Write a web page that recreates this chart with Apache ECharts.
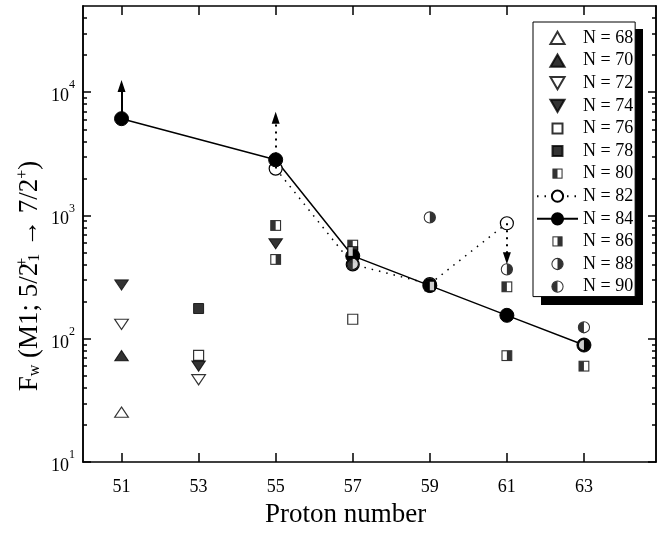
<!DOCTYPE html>
<html>
<head>
<meta charset="utf-8">
<script src="https://cdn.jsdelivr.net/npm/echarts@6/dist/echarts.min.js"></script>
<style>html,body{margin:0;padding:0;background:#fff;}#c{width:659px;height:533px;}</style>
</head>
<body>
<div id="c"></div>
<script>
// ---- data ----
const xTicks = [51, 53, 55, 57, 59, 61, 63];
const yMajor = [10, 100, 1000, 10000];
const yMinor = [20,30,40,50,60,70,80,90,200,300,400,500,600,700,800,900,2000,3000,4000,5000,6000,7000,8000,9000,20000,30000,40000];
const n68 = [[51, 25.4]];
const n70 = [[51, 73]];
const n72 = [[51, 131], [53, 46.5]];
const n74 = [[51, 273], [53, 60], [55, 589]];
const n76 = [[53, 73.5], [57, 144]];
const n78 = [[53, 176]];
const n80 = [[55, 830], [57, 575], [59, 268], [61, 264], [63, 60]];
const n82 = [[55, 2400], [57, 401], [59, 278], [61, 865]];
const n84 = [[51, 6100], [55, 2830], [57, 470], [59, 270], [61, 155], [63, 89]];
const n86 = [[55, 440], [57, 510], [61, 73]];
const n88 = [[57, 400], [59, 964], [61, 366], [63, 89]];
const n90 = [[57, 405], [63, 124]];
// limit arrows: [x, from, to]
const arrowSolid = [[51, 6100, 11200]];
const arrowDotted = [[55, 2400, 6200], [61, 865, 450]];

function svgSym(inner) {
  return 'image://data:image/svg+xml;charset=utf-8,' + encodeURIComponent(
    "<svg xmlns='http://www.w3.org/2000/svg' width='40' height='40' viewBox='0 0 40 40'>" + inner + "</svg>");
}
const sqLeft = svgSym("<rect x='7' y='7' width='26' height='26' fill='white' stroke='black' stroke-width='3'/><rect x='7' y='7' width='13' height='26' fill='black'/>");
const sqRight = svgSym("<rect x='7' y='7' width='26' height='26' fill='white' stroke='black' stroke-width='3'/><rect x='20' y='7' width='13' height='26' fill='black'/>");
const ciRight = svgSym("<circle cx='20' cy='20' r='16' fill='white' stroke='black' stroke-width='3'/><path d='M20,4 A16,16 0 0,1 20,36 Z' fill='black'/>");
const ciLeft = svgSym("<circle cx='20' cy='20' r='16' fill='white' stroke='black' stroke-width='3'/><path d='M20,4 A16,16 0 0,0 20,36 Z' fill='black'/>");
const triUp = 'path://M-0.5,-0.6M10.5,9.3M5,0L10,8.66L0,8.66Z';
const triDown = 'path://M-0.5,-0.6M10.5,9.3M0,0L10,0L5,8.66Z';
const sq = 'path://M-2,-2M12,12M0,0L10,0L10,10L0,10Z';

const FONT = 'Liberation Serif';
const open = {color: '#fff', borderColor: '#000', borderWidth: 1.2};
const full = {color: '#000', borderColor: '#000', borderWidth: 1};

function sc(name, data, symbol, size, style) {
  return {name, type: 'scatter', data, symbol, symbolSize: size, symbolKeepAspect: true, itemStyle: style, z: 3};
}
function arrowLines(list) {
  return list.map(a => [{coord: [a[0], a[1]]}, {coord: [a[0], a[2]]}]);
}

const series = [
  sc('N = 68', n68, triUp, [15, 13], open),
  sc('N = 70', n70, triUp, [15, 13], full),
  sc('N = 72', n72, triDown, [15, 13], open),
  sc('N = 74', n74, triDown, [15, 13], full),
  sc('N = 76', n76, sq, 14, open),
  sc('N = 78', n78, sq, 14, full),
  sc('N = 80', n80, sqLeft, 15, full),
  {name: 'N = 82', type: 'line', data: n82, symbol: 'circle', symbolSize: 13,
   itemStyle: open, lineStyle: {color: '#000', width: 1.5, type: [1.5, 6]}, z: 2,
   markLine: {silent: true, symbol: ['none', 'triangle'], symbolSize: [8, 12],
     label: {show: false}, lineStyle: {color: '#000', width: 2, type: [2, 5]},
     data: arrowLines(arrowDotted)}},
  {name: 'N = 84', type: 'line', data: n84, symbol: 'circle', symbolSize: 14,
   itemStyle: full, lineStyle: {color: '#000', width: 1.5}, z: 2,
   markLine: {silent: true, symbol: ['none', 'triangle'], symbolSize: [8, 12],
     label: {show: false}, lineStyle: {color: '#000', width: 2, type: 'solid'},
     data: arrowLines(arrowSolid)}},
  sc('N = 86', n86, sqRight, 15, full),
  sc('N = 88', n88, ciRight, 14, full),
  sc('N = 90', n90, ciLeft, 14, full)
];

const supRich = {
  b: {fontFamily: FONT, fontSize: 18, color: '#000', lineHeight: 26, verticalAlign: 'bottom'},
  s: {fontFamily: FONT, fontSize: 12, color: '#000', lineHeight: 12, verticalAlign: 'top'}
};

function yAx(pos, showLabel, ticks, len) {
  return {
    type: 'log', logBase: 10, min: 10, max: 50000, position: pos,
    axisLine: {show: true, lineStyle: {color: '#000', width: 1.5}},
    axisTick: {show: true, inside: true, length: len, customValues: ticks, lineStyle: {color: '#000', width: 1.5}},
    axisLabel: showLabel ? {show: true, customValues: yMajor, margin: 8,
      formatter: v => '{b|10}{s|' + Math.round(Math.log10(v)) + '}', rich: supRich} : {show: false},
    splitLine: {show: false}, minorTick: {show: false}
  };
}

const titleRich = {
  a: {fontFamily: FONT, fontSize: 27, fill: '#000', lineHeight: 28, verticalAlign: 'bottom'},
  s: {fontFamily: FONT, fontSize: 16, fill: '#000', lineHeight: 15, verticalAlign: 'top'},
  p: {fontFamily: FONT, fontSize: 16, fill: '#000', lineHeight: 15, verticalAlign: 'top', width: 1},
  u: {fontFamily: FONT, fontSize: 16, fill: '#000', lineHeight: 15, verticalAlign: 'bottom'}
};

const chart = echarts.init(document.getElementById('c'), null, {renderer: 'canvas'});
chart.setOption({
  animation: false,
  backgroundColor: '#fff',
  grid: {left: 83, top: 6, width: 573, height: 466, containLabel: false},
  graphic: [{
    type: 'text', x: 29, y: 276, rotation: Math.PI / 2, z: 10,
    style: {
      text: '{a|F}{u|w}{a| (M1; 5/2}{p|+}{u|1}{a| → 7/2}{s|+}{a|)}',
      rich: titleRich, align: 'center', verticalAlign: 'middle'
    }
  }, {
    type: 'rect', z: 5, shape: {x: 541, y: 29, width: 102, height: 276},
    style: {fill: '#000'}
  }],
  xAxis: [
    {type: 'value', min: 50, max: 64.87, position: 'bottom',
     name: 'Proton number', nameLocation: 'middle', nameGap: 34,
     nameTextStyle: {fontFamily: FONT, fontSize: 27, color: '#000', padding: [0, 48, 0, 0]},
     axisLine: {lineStyle: {color: '#000', width: 1.5}},
     axisTick: {inside: true, length: 9, customValues: xTicks, lineStyle: {color: '#000', width: 1.5}},
     axisLabel: {customValues: xTicks, fontFamily: FONT, fontSize: 18, color: '#000', margin: 16},
     splitLine: {show: false}},
    {type: 'value', min: 50, max: 64.87, position: 'top',
     axisLine: {lineStyle: {color: '#000', width: 1.5}},
     axisTick: {inside: true, length: 9, customValues: xTicks, lineStyle: {color: '#000', width: 1.5}},
     axisLabel: {show: false}, splitLine: {show: false}}
  ],
  yAxis: [
    yAx('left', true, yMajor, 8),
    yAx('left', false, yMinor, 4),
    yAx('right', false, yMajor, 8),
    yAx('right', false, yMinor, 4)
  ],
  legend: {
    orient: 'vertical', left: 533, top: 22, z: 6,
    padding: [7, 2, 1, 3], itemGap: 4.6, itemWidth: 41, itemHeight: 14,
    backgroundColor: '#fff', borderColor: '#000', borderWidth: 1,
    textStyle: {fontFamily: FONT, fontSize: 18, color: '#000'},
    data: series.map(s => s.name)
  },
  series: series
});
</script>
</body>
</html>
